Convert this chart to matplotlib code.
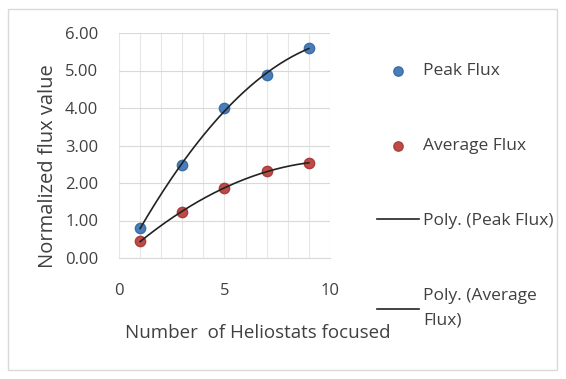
import numpy as np
import matplotlib
matplotlib.use("Agg")
import matplotlib.pyplot as plt
from matplotlib.patches import Rectangle

x = [1, 3, 5, 7, 9]
peak = [0.80, 2.48, 4.00, 4.88, 5.60]
avg = [0.45, 1.22, 1.88, 2.32, 2.53]
labels = ["Peak Flux", "Average Flux", "Poly. (Peak Flux)", "Poly. (Average\nFlux)"]

plt.rcParams['font.family'] = ['Open Sans', 'DejaVu Sans']

fig = plt.figure(figsize=(5.66, 3.79), dpi=100)
fig.patches.append(Rectangle((8/566, 9/379), 549/566, 361/379, transform=fig.transFigure,
                             fill=False, edgecolor='#d9d9d9', linewidth=1))
ax = fig.add_axes([119/566, 1 - 258/379, 211/566, 225/379])

xs = np.linspace(min(x), max(x), 200)
cp = np.polyfit(x, peak, 2)
ca = np.polyfit(x, avg, 2)

ax.scatter(x, peak, s=55, color='#4a7ebb', edgecolors='#3a6ea8', zorder=3, label=labels[0])
ax.scatter(x, avg, s=55, color='#be4b48', edgecolors='#a83d3a', zorder=3, label=labels[1])
ax.plot(xs, np.polyval(cp, xs), color='#222222', lw=1.2, zorder=4, label=labels[2])
ax.plot(xs, np.polyval(ca, xs), color='#222222', lw=1.2, zorder=4, label=labels[3])

ax.set_xlim(0, 10)
ax.set_ylim(0, 6)
ax.set_xticks([0, 5, 10])
ax.set_xticks(np.arange(0, 11, 1), minor=True)
ax.set_yticks(np.arange(0, 7, 1))
ax.set_yticklabels([f"{v:.2f}" for v in np.arange(0, 7, 1)])
ax.grid(True, which='both', axis='x', color='#e6e6e6', lw=0.8)
ax.grid(True, which='major', axis='y', color='#d9d9d9', lw=0.8)
ax.set_axisbelow(True)
for s in ['top', 'right', 'left']:
    ax.spines[s].set_visible(False)
ax.spines['bottom'].set_color('#d9d9d9')
ax.tick_params(axis='both', which='both', length=0, labelsize=12, colors='#404040')
ax.tick_params(axis='x', pad=18)
ax.tick_params(axis='y', pad=15)
ax.set_xlabel("Number  of Heliostats focused", fontsize=13.5, color='#404040')
ax.xaxis.set_label_coords((258 - 119) / 211, -(333 - 258) / 225)
ax.xaxis.label.set_va('center')
ax.set_ylabel("Normalized flux value", fontsize=14.5, color='#404040')
ax.yaxis.set_label_coords(-(119 - 48) / 211, (258 - 166) / 225)
ax.yaxis.label.set_va('center')

leg = ax.legend(loc='upper left', bbox_to_anchor=(370/566, 1 - 56/379), bbox_transform=fig.transFigure,
                frameon=False, fontsize=12.5, labelspacing=3.4, handlelength=2.4, handletextpad=0.25,
                scatterpoints=1, markerscale=0.9, borderaxespad=0)
for t in leg.get_texts():
    t.set_color('#404040')
    t.set_linespacing(1.7)

fig.savefig("out.png", dpi=100)
